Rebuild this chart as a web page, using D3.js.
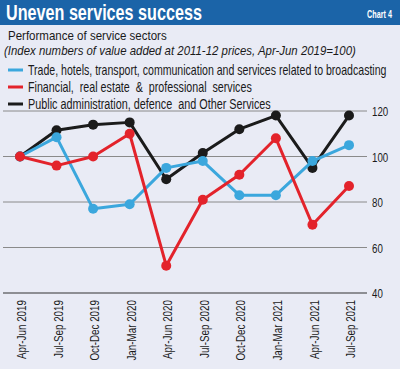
<!DOCTYPE html>
<html><head><meta charset="utf-8">
<script src="https://cdn.jsdelivr.net/npm/d3@7"></script>
<style>
body{margin:0;padding:0;background:#e9ebf5;}
svg{display:block;}
text{white-space:pre;}
</style></head>
<body>
<svg id="c" width="400" height="369"></svg>
<script>
const categories = ["Apr-Jun 2019","Jul-Sep 2019","Oct-Dec 2019","Jan-Mar 2020","Apr-Jun 2020","Jul-Sep 2020","Oct-Dec 2020","Jan-Mar 2021","Apr-Jun 2021","Jul-Sep 2021"];
const tradeValues = [100,108.5,77,79,95,98,83,83,98,105];
const financialValues = [100,96,100,110,52,81,92,108,70,87];
const publicValues = [100,111.5,114,115,90,101.5,112,118,95,118];
const yTicks = [40,60,80,100,120];
const seriesNames = ["Trade, hotels, transport, communication and services related to broadcasting","Financial,  real estate  &  professional  services","Public administration, defence  and Other Services"];
const seriesColors = ["#3ba7dd","#e3232b","#1b1b1b"];

const svg = d3.select("#c");
const font = "'Liberation Sans',Arial,sans-serif";
// place text at (x,y) horizontally condensed to width w
function ctext(x, y, w, str, attrs){
  const t = svg.append("text").attr("x",0).attr("y",0).attr("font-family",font).text(str);
  Object.entries(attrs||{}).forEach(([k,v])=>t.attr(k,v));
  const n = t.node().getComputedTextLength();
  t.attr("transform",`translate(${x},${y}) scale(${w/n},1)`);
  return t;
}

svg.append("rect").attr("width",400).attr("height",369).attr("fill","#e9ebf5");
// title bar
svg.append("rect").attr("x",0).attr("y",0).attr("width",400).attr("height",25).attr("fill","#1b64a8");
ctext(6,20,196,"Uneven services success",{"fill":"#fff","font-weight":"bold","font-size":22});
ctext(367,18,25,"Chart 4",{"fill":"#fff","font-weight":"bold","font-size":11});
ctext(8,40,159,"Performance of service sectors",{"fill":"#1a1a1a","font-size":13});
ctext(4,55,352,"(Index numbers of value added at 2011-12 prices, Apr-Jun 2019=100)",{"fill":"#1a1a1a","font-style":"italic","font-size":12.5});

const x = d3.scalePoint().domain(categories).range([20,349]);
const y = d3.scaleLinear().domain([40,120]).range([293,111]);

// grid
svg.append("g").selectAll("line").data(yTicks).join("line")
  .attr("x1",3).attr("x2",367).attr("y1",d=>y(d)).attr("y2",d=>y(d))
  .attr("stroke",d=>d===40?"#333":"#8a8a8a").attr("stroke-width",d=>d===40?1.2:1);
const yAxis = d3.axisRight(y).tickValues(yTicks).tickSize(0).tickPadding(0);
const gy = svg.append("g").attr("transform","translate(372,0)").call(yAxis);
gy.select(".domain").remove();
gy.selectAll("text").attr("font-family",font).attr("font-size",13.5).attr("fill","#1a1a1a").attr("dy","0.35em")
  .attr("x",0).attr("transform","scale(0.72,1)");

// x labels
const xAxis = d3.axisBottom(x).tickSize(0).tickPadding(0);
const gx = svg.append("g").attr("transform","translate(0,293)").call(xAxis);
gx.select(".domain").remove();
gx.selectAll("text").attr("font-family",font).attr("font-size",13).attr("fill","#1a1a1a")
  .attr("text-anchor","end").attr("x",0).attr("y",0).attr("dy","0.35em");
const natural = gx.select("text").node().getComputedTextLength();
const fx = 59/natural;
gx.selectAll("text").attr("transform",`translate(1,7) rotate(-90) scale(${fx},1)`);

// legend
const legendY = [70,87,104];
const legendW = [359,224,243];
seriesNames.forEach((n,i)=>{
  svg.append("line").attr("x1",8).attr("x2",23).attr("y1",legendY[i]).attr("y2",legendY[i])
    .attr("stroke",seriesColors[i]).attr("stroke-width",3);
  ctext(28,legendY[i],legendW[i],n,{"dy":"0.35em","font-size":14,"fill":"#1a1a1a"});
});

const allSeries = [tradeValues, financialValues, publicValues];
const line = d3.line().x((d,i)=>x(categories[i])).y(d=>y(d));
const drawOrder = [2,0,1];
drawOrder.forEach(i=>{
  const g = svg.append("g");
  g.append("path").datum(allSeries[i]).attr("d",line).attr("fill","none")
    .attr("stroke",seriesColors[i]).attr("stroke-width",3).attr("stroke-linejoin","round");
  g.selectAll("circle").data(allSeries[i]).join("circle")
    .attr("cx",(d,j)=>x(categories[j])).attr("cy",d=>y(d)).attr("r",5).attr("fill",seriesColors[i]);
});
</script>
</body></html>
